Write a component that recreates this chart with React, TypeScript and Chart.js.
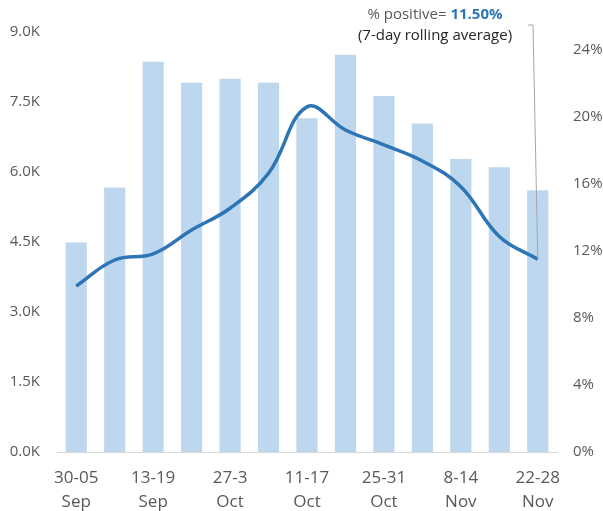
import React, { useEffect, useRef } from "react";
import { Chart, registerables } from "chart.js";

Chart.register(...registerables);

const weeks = [
  "30-05 Sep", "6-12 Sep", "13-19 Sep", "20-26 Sep", "27-3 Oct", "4-10 Oct",
  "11-17 Oct", "18-24 Oct", "25-31 Oct", "1-7 Nov", "8-14 Nov", "15-21 Nov", "22-28 Nov",
];
const testsK = [4.49, 5.67, 8.36, 7.91, 8.0, 7.91, 7.15, 8.51, 7.63, 7.04, 6.28, 6.1, 5.61];
const positivePct = [9.9, 11.46, 11.82, 13.25, 14.55, 16.64, 20.6, 19.22, 18.33, 17.37, 15.84, 12.86, 11.5];
const leftTicks = [0, 1.5, 3.0, 4.5, 6.0, 7.5, 9.0];
const rightTicks = [0, 4, 8, 12, 16, 20, 24];
const annotationLabel = "% positive= ";
const annotationValue = "11.50%";
const annotationSub = "(7-day rolling average)";

const FONT = "'Open Sans', sans-serif";
const GREY = "#595959";

export default function App() {
  const ref = useRef<HTMLCanvasElement | null>(null);

  useEffect(() => {
    document.body.style.margin = "0";
    const canvas = ref.current;
    if (!canvas) return;

    const annotationPlugin = {
      id: "annot",
      afterDraw(chart: any) {
        const ctx = chart.ctx;
        const meta = chart.getDatasetMeta(1);
        const last = meta.data[meta.data.length - 1];
        ctx.save();
        // leader line
        ctx.strokeStyle = "#A6A6A6";
        ctx.lineWidth = 1;
        ctx.beginPath();
        ctx.moveTo(528, 25);
        ctx.lineTo(533, 25);
        ctx.lineTo(last.x, last.y);
        ctx.stroke();
        // text
        ctx.textBaseline = "middle";
        ctx.textAlign = "left";
        const cx = 435;
        ctx.font = `15px ${FONT}`;
        const w1 = ctx.measureText(annotationLabel).width;
        ctx.font = `bold 15px ${FONT}`;
        const w2 = ctx.measureText(annotationValue).width;
        const startX = cx - (w1 + w2) / 2;
        ctx.font = `15px ${FONT}`;
        ctx.fillStyle = GREY;
        ctx.fillText(annotationLabel, startX, 15);
        ctx.font = `bold 15px ${FONT}`;
        ctx.fillStyle = "#2E75B6";
        ctx.fillText(annotationValue, startX + w1, 15);
        ctx.font = `15px ${FONT}`;
        ctx.fillStyle = "#262626";
        ctx.textAlign = "center";
        ctx.fillText(annotationSub, cx, 36);
        ctx.restore();
      },
    };

    const chart = new Chart(canvas, {
      type: "bar",
      data: {
        labels: weeks,
        datasets: [
          {
            type: "bar",
            data: testsK.map((v) => v * 1000),
            backgroundColor: "#BDD7EE",
            categoryPercentage: 1,
            barPercentage: 0.55,
            yAxisID: "y",
            order: 1,
          },
          {
            type: "line",
            data: positivePct,
            borderColor: "#2E75B6",
            borderWidth: 3.5,
            pointRadius: 0,
            tension: 0.4,
            yAxisID: "y1",
            order: 0,
          } as any,
        ],
      },
      options: {
        responsive: false,
        animation: false,
        layout: { padding: { top: 32, left: 0, right: 0, bottom: 0 } },
        plugins: { legend: { display: false }, tooltip: { enabled: false } },
        scales: {
          x: {
            grid: { display: false, drawTicks: false },
            border: { display: true, color: "#D9D9D9", width: 1 },
            ticks: {
              autoSkip: false,
              maxRotation: 0,
              padding: 14,
              color: GREY,
              font: { family: FONT, size: 17, lineHeight: 1.4 },
              callback: (_v: any, i: number) => {
                if (i % 2 !== 0) return "";
                const parts = weeks[i].split(" ");
                return [parts[0], parts[1]];
              },
            },
            afterFit: (s: any) => {
              s.height = 59;
            },
          },
          y: {
            position: "left",
            min: 0,
            max: 9000,
            grid: { display: false, drawTicks: false },
            border: { display: false },
            afterBuildTicks: (s: any) => {
              s.ticks = leftTicks.map((v) => ({ value: v * 1000 }));
            },
            ticks: {
              padding: 17,
              color: GREY,
              font: { family: FONT, size: 15 },
              callback: (v: any) => (Number(v) / 1000).toFixed(1) + "K",
            },
            afterFit: (s: any) => {
              s.width = 57;
            },
          },
          y1: {
            position: "right",
            min: 0,
            max: 25.07,
            grid: { display: false, drawTicks: false },
            border: { display: false },
            afterBuildTicks: (s: any) => {
              s.ticks = rightTicks.map((v) => ({ value: v }));
            },
            ticks: {
              padding: 16,
              color: GREY,
              font: { family: FONT, size: 15 },
              callback: (v: any) => Number(v) + "%",
            },
            afterFit: (s: any) => {
              s.width = 46;
            },
          },
        },
      },
      plugins: [annotationPlugin],
    });

    return () => chart.destroy();
  }, []);

  return (
    <div style={{ position: "absolute", left: 0, top: 0, width: 603, height: 511, background: "#fff" }}>
      <canvas ref={ref} width={603} height={511} />
    </div>
  );
}
